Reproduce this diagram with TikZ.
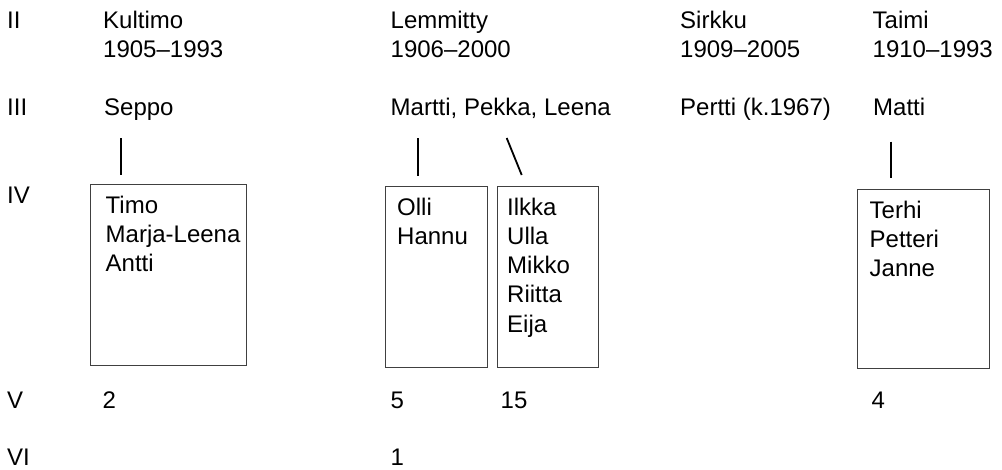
\documentclass[tikz,border=0pt]{standalone}
\usepackage{fontspec}
\setmainfont{Liberation Sans}
\usetikzlibrary{positioning}
\tikzset{
	gen/.style={anchor=base west, inner sep=0pt, font=\fontsize{24}{29.3}\selectfont},
	% multi-line text: base is the baseline of the last line
	person/.style={anchor=base west, inner sep=0pt, align=left, font=\fontsize{24}{29.3}\selectfont},
	% boxes for the children of generation IV
	family/.style={draw=black!75, line width=1.2pt, rectangle, inner sep=0pt, anchor=north west},
}

\begin{document}
\begin{tikzpicture}[x=1pt, y=-1pt]
	\useasboundingbox (0,0) rectangle (1002,469);

	\node (g2) [gen] at (7,28.3) {II};
	\node (g3) [gen] at (7,115) {III};
	\node (g4) [gen] at (7,203) {IV};
	\node (g5) [gen] at (7,408) {V};
	\node (g6) [gen] at (7,465) {VI};

	\node (kultimo) [person] at (103,57.8) {Kultimo\\1905--1993};
	\node (lemmitty) [person] at (390.5,57.8) {Lemmitty\\1906--2000};
	\node (sirkku) [person] at (680,57.8) {Sirkku\\1909--2005};
	\node (taimi) [person] at (872.5,57.8) {Taimi\\1910--1993};

	\node (seppo) [person] at (104,115) {Seppo};
	\node (martti) [person] at (390.5,115) {Martti, Pekka, Leena};
	\node (pertti) [person] at (680,115) {Pertti (k.1967)};
	\node (matti) [person] at (873,115) {Matti};

	\node (kbox) [family, minimum width=156pt, minimum height=181pt] at (90,184) {};
	\node (obox) [family, minimum width=102pt, minimum height=181pt] at (385,186) {};
	\node (ibox) [family, minimum width=101pt, minimum height=181pt] at (497,186) {};
	\node (tbox) [family, minimum width=132pt, minimum height=179pt] at (856.5,189) {};

	\node (timo) [person] at (105.5,271.9) {Timo\\Marja-Leena\\Antti};
	\node (olli) [person] at (397,244.3) {Olli\\Hannu};
	\node (ilkka) [person] at (507,332.2) {Ilkka\\Ulla\\Mikko\\Riitta\\Eija};
	\node (terhi) [person] at (869.5,276.9) {Terhi\\Petteri\\Janne};

	\node (n2) [person] at (102.5,408) {2};
	\node (n5) [person] at (390.5,408) {5};
	\node (n15) [person] at (500.5,408) {15};
	\node (n4) [person] at (871.5,408) {4};
	\node (n1) [person] at (390.5,465) {1};

	\coordinate (s1) at (121,138);
	\coordinate (s2) at (121,175);
	\coordinate (m1) at (417.7,138);
	\coordinate (m2) at (417.7,176);
	\coordinate (p1) at (506.7,138);
	\coordinate (p2) at (521.7,175);
	\coordinate (t1) at (891,141.7);
	\coordinate (t2) at (891,178.3);

	\begin{scope}[line width=1.8pt, black]
		\draw (s1) -- (s2);
		\draw (m1) -- (m2);
		\draw (p1) -- (p2);
		\draw (t1) -- (t2);
	\end{scope}
\end{tikzpicture}
\end{document}
